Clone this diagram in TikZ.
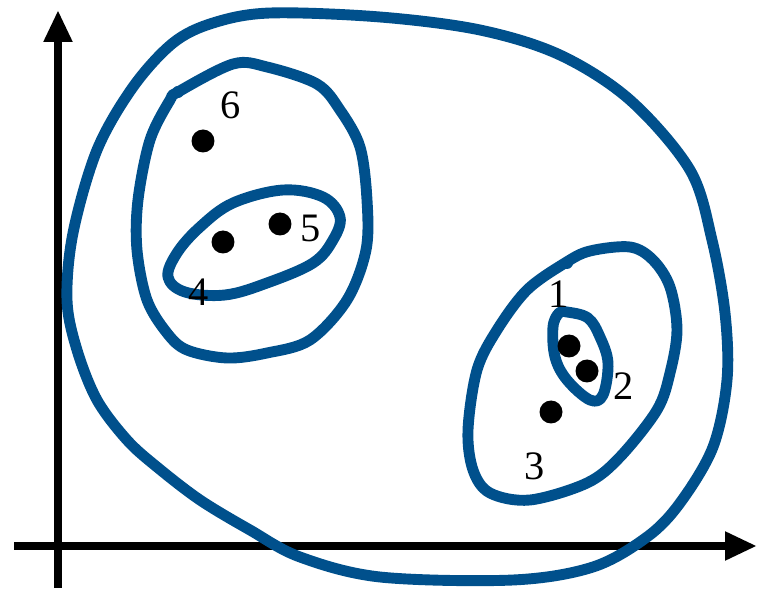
\documentclass[tikz,border=0pt]{standalone}
\usepackage{fontspec}
\setmainfont{Liberation Serif}
\usepackage{tikz}
\usetikzlibrary{arrows.meta,calc,positioning}
\usepackage{xcolor}
\definecolor{penblue}{RGB}{0,80,140}

\begin{document}
\begin{tikzpicture}[
  x=0.02cm, y=-0.02cm,
  dot/.style={circle,fill=black,inner sep=0pt,minimum size=0.46cm},
  lbl/.style={inner sep=0pt,font=\fontsize{23}{28}\selectfont},
  axis/.style={line width=4.5pt,-{Triangle[length=0.64cm,width=0.54cm]}},
  loop/.style={penblue,line width=6.2pt,line join=round,line cap=round}
]
\useasboundingbox (0,0) rectangle (758,594);
% Axes
\coordinate (ybot) at (58,588);
\coordinate (ytop) at (58,10);
\coordinate (xleft) at (14,546);
\coordinate (xright) at (757,546);
\draw[axis] (ybot) -- (ytop);
\draw[axis] (xleft) -- (xright);
% Outer loop
\draw[loop] plot[smooth cycle,tension=0.55] coordinates {
  (67,300) (73,233) (97,150) (133,87) (173,43) (213,23) (270,13)
  (380,17) (480,30) (560,55) (630,100) (690,170) (712,240) (725,313)
  (727,380) (713,447) (680,503) (647,537) (593,567) (513,580)
  (380,577) (300,557) (250,530) (200,500) (157,467) (127,440)
  (97,400) (77,350)};
% Left loop (4,5,6)
\draw[loop] plot[smooth cycle,tension=0.55] coordinates {
  (178,92) (233,64) (267,67) (317,84) (340,110) (360,147) (367,200)
  (366,250) (347,300) (310,340) (267,353) (227,358) (187,350)
  (167,333) (147,300) (137,250) (138,200) (150,140) (170,100)};
\fill[penblue] (178,92) circle (6);
% Small left loop (4,5)
\draw[loop] plot[smooth cycle,tension=0.6] coordinates {
  (283,190) (323,197) (340,217) (333,240) (313,263) (267,283)
  (225,295) (185,292) (168,277) (177,253) (200,227) (233,203)};
% Right loop (1,2,3)
\draw[loop] plot[smooth cycle,tension=0.55] coordinates {
  (565,263) (590,251) (630,247) (653,260) (670,287) (677,330)
  (670,373) (657,410) (620,457) (587,483) (530,500) (490,493)
  (473,470) (468,430) (477,370) (497,330) (527,290)};
\fill[penblue] (567,263) circle (6);
% Small right loop (1,2)
\draw[loop] plot[smooth cycle,tension=0.6] coordinates {
  (567,312) (588,318) (600,337) (608,363) (603,395) (590,400)
  (567,380) (555,357) (553,327) (559,313)};
% Points
\node[dot] (p1) at (569,346) {};
\node[dot] (p2) at (587,371) {};
\node[dot] (p3) at (551,412) {};
\node[dot] (p4) at (223,242) {};
\node[dot] (p5) at (280,224) {};
\node[dot] (p6) at (203,141) {};
% Labels
\node[lbl] (l1) at (559,294) {1};
\node[lbl] (l2) at (624,386) {2};
\node[lbl] (l3) at (535,466) {3};
\node[lbl] (l4) at (199,292) {4};
\node[lbl] (l5) at (311,228) {5};
\node[lbl] (l6) at (231,105) {6};
\end{tikzpicture}
\end{document}
